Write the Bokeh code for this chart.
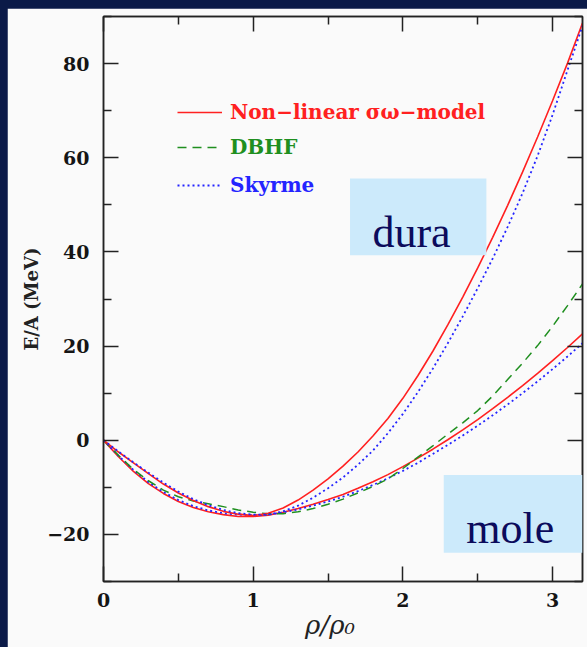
from bokeh.plotting import figure
from bokeh.models import (LinearAxis, FixedTicker, Legend, LegendItem, BoxAnnotation,
                          Label, Range1d, GlobalInlineStyleSheet, CustomJSTickFormatter)
from bokeh.embed import file_html
from bokeh.resources import INLINE

# ---------------- data ----------------
rho = [0.0, 0.1, 0.2, 0.3, 0.4, 0.5, 0.6, 0.7, 0.8, 0.9, 1.0, 1.1, 1.2, 1.3, 1.4, 1.5,
       1.6, 1.7, 1.8, 1.9, 2.0, 2.1, 2.2, 2.3, 2.4, 2.5, 2.6, 2.7, 2.8, 2.9, 3.0, 3.1, 3.2]

nl_hard = [0.0, -2.5, -4.8, -7.1, -9.3, -11.2, -12.8, -14.1, -15.1, -15.7, -16.0, -15.5,
           -14.4, -12.7, -10.6, -8.2, -5.5, -2.5, 0.9, 4.6, 8.9, 13.7, 18.9, 24.5, 30.4,
           36.6, 43.1, 49.9, 57.0, 64.4, 72.1, 80.1, 88.6]
skyrme_hard = [0.0, -2.4, -4.7, -6.9, -9.0, -10.9, -12.5, -13.8, -14.8, -15.5, -15.8, -15.8,
               -15.1, -13.9, -12.2, -10.2, -7.9, -5.2, -2.2, 1.5, 5.6, 10.2, 15.2, 20.6, 26.3,
               32.3, 38.6, 45.3, 52.5, 60.4, 69.1, 78.6, 88.0]
nl_soft = [0.0, -3.5, -6.6, -9.2, -11.3, -13.0, -14.3, -15.2, -15.8, -16.2, -16.2, -15.9,
           -15.3, -14.5, -13.6, -12.6, -11.5, -10.2, -8.8, -7.3, -5.6, -3.8, -1.9, 0.1, 2.2,
           4.4, 6.7, 9.1, 11.6, 14.2, 16.9, 19.7, 22.6]
skyrme_soft = [0.0, -3.3, -6.3, -8.9, -11.0, -12.7, -14.0, -14.9, -15.5, -15.8, -15.9, -15.8,
               -15.3, -14.7, -13.9, -13.0, -12.0, -10.8, -9.5, -8.1, -6.5, -4.8, -2.9, -1.0,
               1.0, 3.1, 5.3, 7.6, 10.0, 12.5, 15.1, 17.8, 20.6]
dbhf = [0.0, -3.2, -6.2, -8.6, -10.6, -12.0, -12.9, -13.5, -14.1, -14.8, -15.3, -15.6,
        -15.6, -15.2, -14.5, -13.6, -12.5, -11.2, -9.8, -8.2, -6.0, -3.6, -1.2, 1.3, 3.7,
        6.3, 9.4, 12.9, 16.4, 20.1, 24.2, 28.6, 33.2]

x_ticks = [0, 1, 2, 3]
x_minor = [0.5, 1.5, 2.5]
x_tick_labels = ["0", "1", "2", "3"]
y_ticks = [-20, 0, 20, 40, 60, 80]
y_minor = [-30, -10, 10, 30, 50, 70, 90]
y_tick_labels = ["\u221220", "0", "20", "40", "60", "80"]

legend_labels = ["Non\u2212linear \u03c3\u03c9\u2212model", "DBHF", "Skyrme"]
box_labels = ["dura", "mole"]

RED = "#ff2020"
GREEN = "#1f8f1f"
BLUE = "#2424ff"
BG = "#fafafa"

# ---------------- figure ----------------
p = figure(width=580, height=639, output_backend="svg", toolbar_location=None,
           x_range=Range1d(0, 3.2), y_range=Range1d(-30, 90),
           min_border_left=96, min_border_right=5, min_border_top=8, min_border_bottom=66,
           background_fill_color=BG, border_fill_color=BG)
p.xgrid.visible = False
p.ygrid.visible = False
p.outline_line_color = "#222222"
p.outline_line_width = 1.5

p.stylesheets = [GlobalInlineStyleSheet(
    css="html, body { background-color: #0b1a48; margin: 0 !important; } "
        "body { padding: 8px 0 0 7px !important; }")]

FONT = "DejaVu Serif"


def style_axis(ax, ticks, minor, labels, show_labels):
    ax.ticker = FixedTicker(ticks=ticks, minor_ticks=minor)
    ax.major_tick_in = 15
    ax.major_tick_out = 0
    ax.minor_tick_in = 8
    ax.minor_tick_out = 0
    ax.axis_line_color = "#222222"
    ax.axis_line_width = 1.5
    ax.major_tick_line_color = "#222222"
    ax.major_tick_line_width = 1.5
    ax.minor_tick_line_color = "#222222"
    ax.minor_tick_line_width = 1.5
    if show_labels:
        ax.major_label_overrides = {t: l for t, l in zip(ticks, labels)}
        ax.major_label_text_font = FONT
        ax.major_label_text_font_style = "bold"
        ax.major_label_text_font_size = "19px"
        ax.major_label_text_color = "#151515"
    else:
        ax.formatter = CustomJSTickFormatter(code="return '';")
        ax.major_label_standoff = 0


xa = p.xaxis[0]
style_axis(xa, x_ticks, x_minor, x_tick_labels, True)
xa.major_label_standoff = 11
xa.axis_label = "\u03c1/\u03c1\u2080\u2003"
xa.axis_label_text_font = FONT
xa.axis_label_text_font_style = "italic"
xa.axis_label_text_font_size = "26px"
xa.axis_label_text_color = "#222222"
xa.axis_label_standoff = 0

ya = p.yaxis[0]
style_axis(ya, y_ticks, y_minor, y_tick_labels, True)
ya.major_label_standoff = 14
ya.axis_label = "E/A (MeV)"
ya.axis_label_text_font = FONT
ya.axis_label_text_font_style = "bold"
ya.axis_label_text_font_size = "18px"
ya.axis_label_text_color = "#222222"
ya.axis_label_standoff = 2

top_ax = LinearAxis()
style_axis(top_ax, x_ticks, x_minor, x_tick_labels, False)
p.add_layout(top_ax, "above")
right_ax = LinearAxis()
style_axis(right_ax, y_ticks, y_minor, y_tick_labels, False)
p.add_layout(right_ax, "right")

# ---------------- curves ----------------
r_soft_red = p.line(rho, nl_soft, line_color=RED, line_width=1.6)
r_soft_blue = p.line(rho, skyrme_soft, line_color=BLUE, line_width=1.8, line_dash="2 3")
r_dbhf = p.line(rho, dbhf, line_color=GREEN, line_width=1.5, line_dash="9 6")
r_hard_red = p.line(rho, nl_hard, line_color=RED, line_width=1.6)
r_hard_blue = p.line(rho, skyrme_hard, line_color=BLUE, line_width=1.8, line_dash="2 3")

# ---------------- legends (one per entry, coloured text) ----------------
legend_specs = [
    (legend_labels[0], r_hard_red, RED, 457),
    (legend_labels[1], r_dbhf, GREEN, 422),
    (legend_labels[2], r_hard_blue, BLUE, 384),
]
for lab, rend, col, ypos in legend_specs:
    lg = Legend(items=[LegendItem(label=lab, renderers=[rend])],
                location=(74, ypos), padding=0, margin=0, spacing=0,
                glyph_width=45, glyph_height=20, label_height=20, label_standoff=8,
                label_text_font=FONT, label_text_font_style="bold",
                label_text_font_size="20px",
                label_text_color=col, border_line_color=None,
                background_fill_alpha=0)
    p.add_layout(lg, "center")

# ---------------- label boxes ----------------
BOXC = "#cceafb"
p.add_layout(BoxAnnotation(left=1.647, right=2.558, bottom=39.3, top=55.6,
                           fill_color=BOXC, fill_alpha=1, line_color=None))
p.add_layout(BoxAnnotation(left=2.273, bottom=-23.9, top=-7.4,
                           fill_color=BOXC, fill_alpha=1, line_color=None))
p.add_layout(Label(x=2.058, y=44.2, text=box_labels[0], text_font="Liberation Serif",
                   text_font_size="44px", text_color="#0b0b5c", text_align="center",
                   text_baseline="alphabetic"))
p.add_layout(Label(x=2.717, y=-18.7, text=box_labels[1], text_font="Liberation Serif",
                   text_font_size="44px", text_color="#0b0b5c", text_align="center",
                   text_baseline="alphabetic"))

open("out.html", "w").write(file_html(p, INLINE))
